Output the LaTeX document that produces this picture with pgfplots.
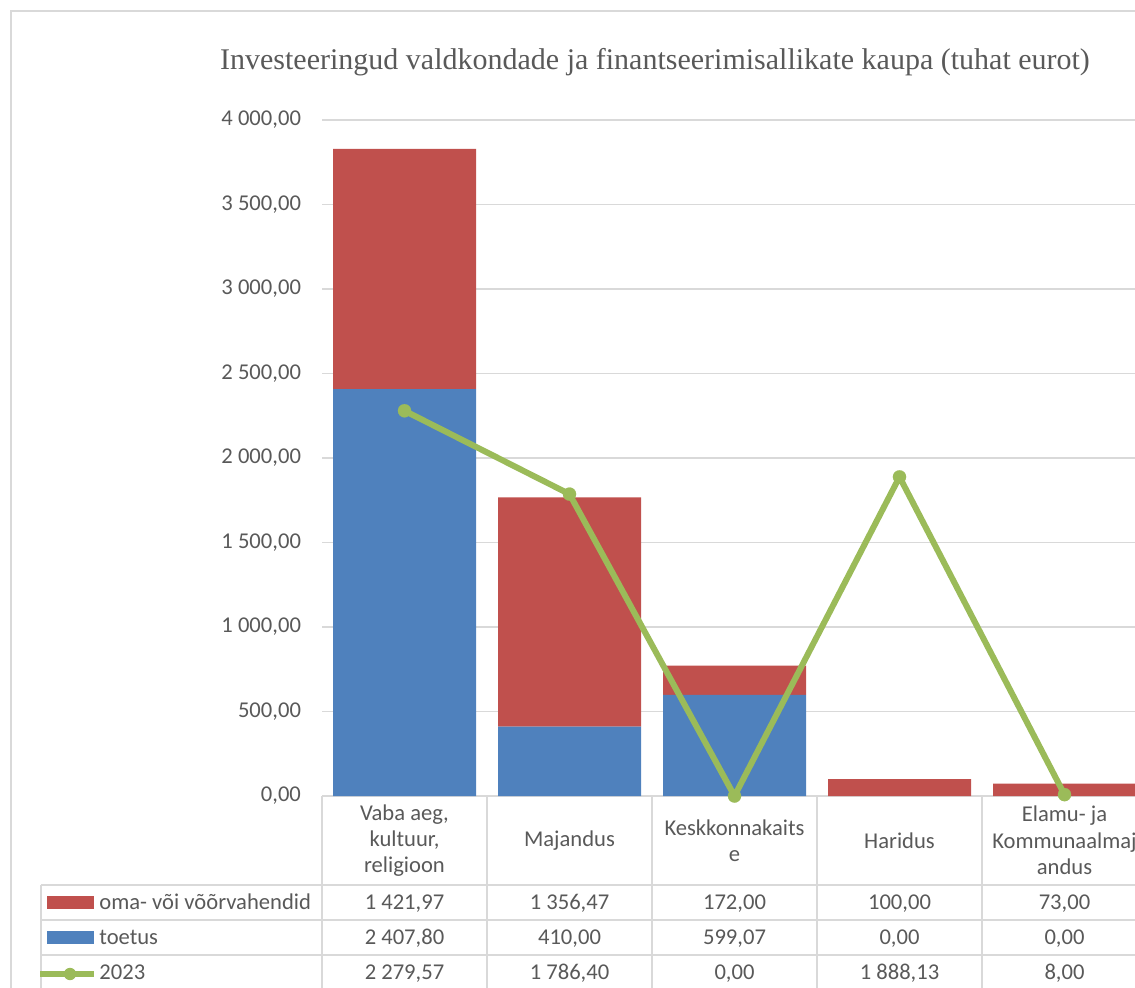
\documentclass[border=0pt]{standalone}
\usepackage{fontspec}
\setmainfont{Carlito}
\newfontfamily\titlefont{Liberation Serif}
\usepackage{pgfplots}
\pgfplotsset{compat=1.18}
\definecolor{cred}{HTML}{C0504D}
\definecolor{cblue}{HTML}{4F81BD}
\definecolor{cgreen}{HTML}{9BBB59}
\definecolor{cgrid}{HTML}{D9D9D9}
\definecolor{ctext}{HTML}{595959}

\begin{document}
\begin{tikzpicture}
\useasboundingbox (0,0) rectangle (567.5pt,-494pt);
\clip (0,0) rectangle (567.5pt,-494pt);
\begin{scope}[x=0.5pt,y=-0.5pt]
 \draw[cgrid, line width=0.75pt] (11,1000) -- (11,11) -- (1200,11);
 \node[font=\titlefont\fontsize{15}{18}\selectfont, text=ctext] at (655,62) {Investeeringud valdkondade ja finantseerimisallikate kaupa (tuhat eurot)};
 \draw[cgrid, line width=0.75pt] (322,796) -- (1200,796);
 \foreach \yy in {885,920,955} \draw[cgrid, line width=0.75pt] (41,\yy) -- (1200,\yy);
 \draw[cgrid, line width=0.75pt] (41,885) -- (41,1000);
 \foreach \xx in {322,487,652,817,982} \draw[cgrid, line width=0.75pt] (\xx,796) -- (\xx,1000);
\end{scope}

\begin{axis}[at={(161pt,-398pt)}, anchor=south west,
  width=412.5pt, height=338pt, scale only axis,
  ybar stacked, bar width=71.5pt,
  xmin=-0.5, xmax=4.5, ymin=0, ymax=4000,
  ytick={0,500,...,4000}, xtick={0,1,2,3,4},
  xticklabels={{Vaba aeg,\\kultuur,\\religioon}, Majandus, {Keskkonnakaits\\e}, Haridus, {Elamu- ja\\Kommunaalmaj\\andus}},
  ymajorgrids, grid style={cgrid, line width=0.75pt},
  axis line style={draw=none}, major tick length=0pt,
  tick label style={font=\fontsize{11.3}{13.2}\selectfont, text=ctext},
  xticklabel style={anchor=center, align=center, yshift=-22.25pt},
  scaled y ticks=false,
  yticklabel style={anchor=east, xshift=-7pt, /pgf/number format/.cd, fixed, fixed zerofill, precision=2, use comma, 1000 sep={\ }, assume math mode=true},
]
\addplot[fill=cblue, draw=none] coordinates {(0,2407.80) (1,410) (2,599.07) (3,0) (4,0)};
\addplot[fill=cred, draw=none] coordinates {(0,1421.97) (1,1356.47) (2,172) (3,100) (4,73)};
\end{axis}

\begin{axis}[at={(161pt,-398pt)}, anchor=south west,
  width=412.5pt, height=338pt, scale only axis, hide axis, clip=false,
  xmin=-0.5, xmax=4.5, ymin=0, ymax=4000]
\addplot[cgreen, line width=3pt, mark=*, mark size=3.3pt, mark options={fill=cgreen, draw=cgreen, line width=0.1pt}] coordinates {(0,2279.57) (1,1786.40) (2,0) (3,1888.13) (4,8)};
\end{axis}

\begin{scope}[x=0.5pt,y=-0.5pt, every node/.style={font=\fontsize{11.3}{13.2}\selectfont, text=ctext, inner sep=0pt, anchor=base}]
 \fill[cred] (47,896) rectangle (94,909);
 \fill[cblue] (47,931) rectangle (94,944);
 \draw[cgreen, line width=2.75pt] (40,974) -- (94,974);
 \fill[cgreen] (70,974) circle (3.1pt);
 \node[anchor=base west] at (99,909.5) {oma- või võõrvahendid};
 \node[anchor=base west] at (99,944.5) {toetus};
 \node[anchor=base west] at (99,979.5) {2023};
 \node at (404.5,909.5) {1 421,97};
 \node at (569.5,909.5) {1 356,47};
 \node at (734.5,909.5) {172,00};
 \node at (899.5,909.5) {100,00};
 \node at (1064.5,909.5) {73,00};
 \node at (404.5,944.5) {2 407,80};
 \node at (569.5,944.5) {410,00};
 \node at (734.5,944.5) {599,07};
 \node at (899.5,944.5) {0,00};
 \node at (1064.5,944.5) {0,00};
 \node at (404.5,979.5) {2 279,57};
 \node at (569.5,979.5) {1 786,40};
 \node at (734.5,979.5) {0,00};
 \node at (899.5,979.5) {1 888,13};
 \node at (1064.5,979.5) {8,00};
\end{scope}
\end{tikzpicture}
\end{document}
